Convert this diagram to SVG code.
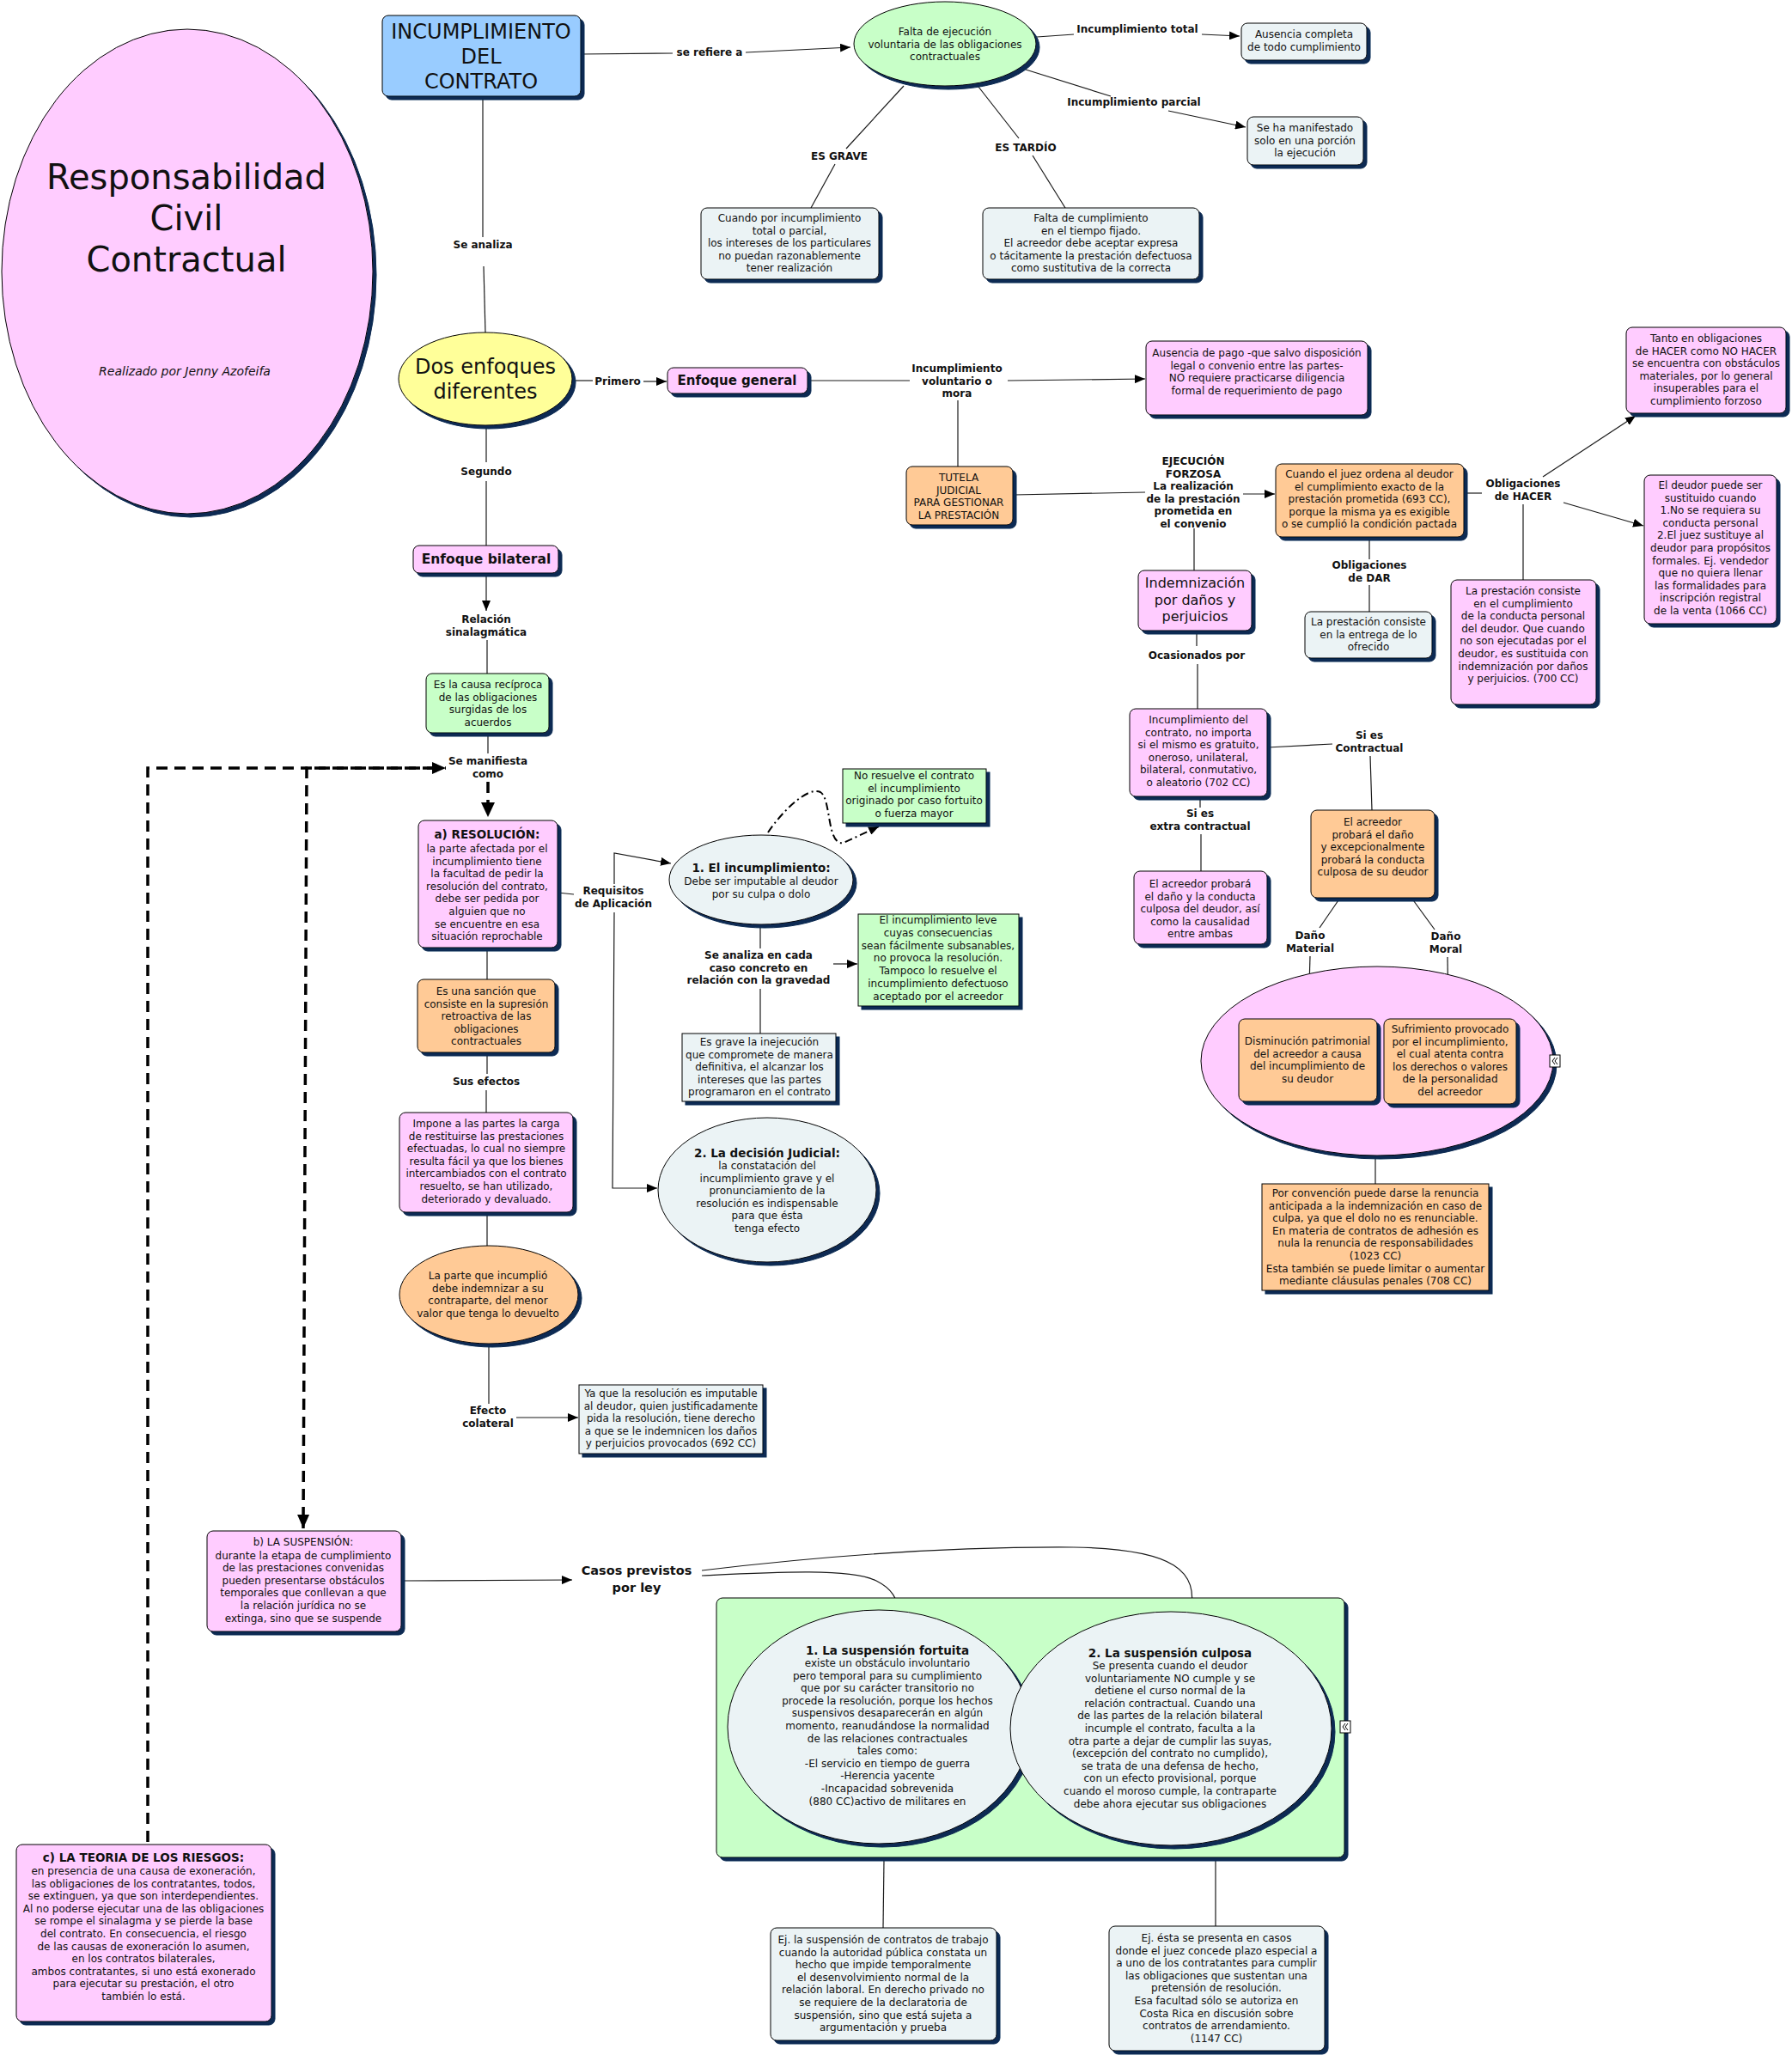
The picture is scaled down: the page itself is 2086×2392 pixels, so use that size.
<svg xmlns="http://www.w3.org/2000/svg" width="2086" height="2392" viewBox="0 0 2086 2392">
<defs>
<style>
.t{font-family:"DejaVu Sans",sans-serif;font-size:12px;text-anchor:middle;fill:#111}
.b{font-weight:bold}
.pk{fill:#ffccff;stroke:#000;stroke-width:1}
.gr{fill:#c8ffc8;stroke:#000;stroke-width:1}
.lt{fill:#ebf3f5;stroke:#000;stroke-width:1}
.or{fill:#ffca96;stroke:#000;stroke-width:1}
.sd{filter:url(#sh)}
.c{fill:none;stroke:#1a1a1a;stroke-width:1.2}
.ca{fill:none;stroke:#1a1a1a;stroke-width:1.2;marker-end:url(#ar)}
.dd{fill:none;stroke:#000;stroke-width:3.5;stroke-dasharray:13 8}
.ic{fill:#fff;stroke:#000;stroke-width:1}
</style>
<filter id="sh" x="-10%" y="-10%" width="125%" height="125%">
<feFlood flood-color="#0b2b52"/>
<feComposite operator="in" in2="SourceAlpha"/>
<feOffset dx="4" dy="4" result="s"/>
<feMerge><feMergeNode in="s"/><feMergeNode in="SourceGraphic"/></feMerge>
</filter>
<marker id="ar" markerUnits="userSpaceOnUse" markerWidth="12" markerHeight="10" refX="12" refY="5" orient="auto"><path d="M0,0L12,5L0,10z" fill="#000"/></marker>
<marker id="ab" markerUnits="userSpaceOnUse" markerWidth="16" markerHeight="16" refX="16" refY="8" orient="auto"><path d="M0,1L16,8L0,15z" fill="#000"/></marker>
</defs>
<rect width="2086" height="2392" fill="#fff"/>

<g id="connectors">
<path class="c" d="M676,63L783,62"/>
<path class="ca" d="M868,61L990,55"/>
<path class="c" d="M1207,43L1250,40"/>
<path class="ca" d="M1399,40L1443,42"/>
<path class="c" d="M1194,81L1293,112"/>
<path class="ca" d="M1360,129L1450,148"/>
<path class="c" d="M1052,100L985,173"/>
<path class="c" d="M972,191L944,242"/>
<path class="c" d="M1139,101L1186,161"/>
<path class="c" d="M1202,181L1240,242"/>
<path class="c" d="M562,112L562,276"/>
<path class="c" d="M563,310L565,387"/>
<path class="c" d="M665,443L690,443"/>
<path class="ca" d="M749,444L776,444"/>
<path class="c" d="M566,494L566,538"/>
<path class="c" d="M566,560L566,635"/>
<path class="c" d="M940,443L1059,443"/>
<path class="ca" d="M1173,443L1333,441"/>
<path class="c" d="M1115,466L1115,543"/>
<path class="c" d="M1180,576L1333,573"/>
<path class="ca" d="M1447,575L1484,575"/>
<path class="c" d="M1704,574L1725,574"/>
<path class="ca" d="M1796,555L1904,484"/>
<path class="ca" d="M1820,585L1913,612"/>
<path class="c" d="M1773,587L1773,675"/>
<path class="c" d="M1594,625L1594,651"/>
<path class="c" d="M1594,681L1594,712"/>
<path class="c" d="M1390,615L1390,664"/>
<path class="c" d="M1393,734L1393,752"/>
<path class="c" d="M1394,773L1394,825"/>
<path class="c" d="M1475,870L1551,866"/>
<path class="c" d="M1595,880L1597,943"/>
<path class="c" d="M1397,927L1397,940"/>
<path class="c" d="M1398,971L1398,1014"/>
<path class="c" d="M1560,1045L1536,1080"/>
<path class="c" d="M1525,1113L1523,1186"/>
<path class="c" d="M1643,1045L1670,1082"/>
<path class="c" d="M1685,1114L1686,1186"/>
<path class="c" d="M1601,1345L1601,1378"/>
<path class="ca" d="M566,667L566,711"/>
<path class="c" d="M567,745L567,784"/>
<path class="c" d="M568,853L568,877"/>
<path class="dd" d="M568,910L568,935"/>
<path d="M560,934L576,934L568,951z" fill="#000"/>
<path class="dd" style="marker-end:url(#ab)" d="M172,2144L172,894L519,894"/>
<path class="dd" style="marker-end:url(#ab)" d="M505,894L357,894L353,1779"/>
<path class="c" d="M649,1039L668,1041"/>
<path class="ca" d="M715,1029L715,993L781,1005"/>
<path class="ca" d="M715,1062L713,1383L765,1383"/>
<path fill="none" stroke="#000" stroke-width="2" stroke-dasharray="9 4 2 4" style="marker-end:url(#ar)" d="M894,969C910,945 940,915 955,922C968,930 962,985 982,981L1023,962"/>
<path class="c" d="M885,1076L885,1104"/>
<path class="c" d="M885,1151L885,1203"/>
<path class="ca" d="M970,1122L998,1122"/>
<path class="c" d="M567,1103L567,1140"/>
<path class="c" d="M567,1225L567,1250"/>
<path class="c" d="M566,1269L566,1295"/>
<path class="c" d="M567,1411L567,1450"/>
<path class="c" d="M569,1564L569,1634"/>
<path class="ca" d="M601,1650L673,1650"/>
<path class="ca" d="M469,1840L666,1839"/>
<path class="c" d="M817,1834C900,1830 990,1825 1020,1840C1040,1850 1044,1862 1045,1873"/>
<path class="c" d="M817,1828C950,1812 1100,1800 1250,1801C1370,1803 1395,1830 1386,1876"/>
<path class="c" d="M1029,2165L1028,2244"/>
<path class="c" d="M1415,2165L1415,2242"/>
</g>

<g id="labels" class="t b">
<text x="826" y="65">se refiere a</text>
<text x="1324" y="38">Incumplimiento total</text>
<text x="1320" y="123">Incumplimiento parcial</text>
<text x="977" y="186">ES GRAVE</text>
<text x="1194" y="176">ES TARDÍO</text>
<text x="562" y="289">Se analiza</text>
<text x="719" y="448">Primero</text>
<text x="566" y="553">Segundo</text>
<text x="1114" y="433"><tspan x="1114">Incumplimiento</tspan><tspan x="1114" dy="14.6">voluntario o</tspan><tspan x="1114" dy="14.6">mora</tspan></text>
<text x="1389" y="541"><tspan x="1389">EJECUCIÓN</tspan><tspan x="1389" dy="14.6">FORZOSA</tspan><tspan x="1389" dy="14.6">La realización</tspan><tspan x="1389" dy="14.6">de la prestación</tspan><tspan x="1389" dy="14.6">prometida en</tspan><tspan x="1389" dy="14.6">el convenio</tspan></text>
<text x="1773" y="567"><tspan x="1773">Obligaciones</tspan><tspan x="1773" dy="14.6">de HACER</tspan></text>
<text x="1594" y="662"><tspan x="1594">Obligaciones</tspan><tspan x="1594" dy="14.6">de DAR</tspan></text>
<text x="1393" y="767">Ocasionados por</text>
<text x="1594" y="860"><tspan x="1594">Si es</tspan><tspan x="1594" dy="14.6">Contractual</tspan></text>
<text x="1397" y="951"><tspan x="1397">Si es</tspan><tspan x="1397" dy="14.6">extra contractual</tspan></text>
<text x="1525" y="1093"><tspan x="1525">Daño</tspan><tspan x="1525" dy="14.6">Material</tspan></text>
<text x="1683" y="1094"><tspan x="1683">Daño</tspan><tspan x="1683" dy="14.6">Moral</tspan></text>
<text x="566" y="725"><tspan x="566">Relación</tspan><tspan x="566" dy="14.6">sinalagmática</tspan></text>
<text x="568" y="890"><tspan x="568">Se manifiesta</tspan><tspan x="568" dy="14.6">como</tspan></text>
<text x="714" y="1041"><tspan x="714">Requisitos</tspan><tspan x="714" dy="14.6">de Aplicación</tspan></text>
<text x="883" y="1116"><tspan x="883">Se analiza en cada</tspan><tspan x="883" dy="14.6">caso concreto en</tspan><tspan x="883" dy="14.6">relación con la gravedad</tspan></text>
<text x="566" y="1263">Sus efectos</text>
<text x="568" y="1646"><tspan x="568">Efecto</tspan><tspan x="568" dy="14.6">colateral</tspan></text>
<text x="741" y="1833" style="font-size:14.5px"><tspan x="741">Casos previstos</tspan><tspan x="741" dy="20">por ley</tspan></text>
</g>

<g id="n-titulo">
<ellipse class="pk sd" cx="218" cy="316" rx="216" ry="282"/>
<text class="t" style="font-size:40px" x="217" y="220"><tspan x="217">Responsabilidad</tspan><tspan x="217" dy="48">Civil</tspan><tspan x="217" dy="48">Contractual</tspan></text>
<text class="t" style="font-size:14px;font-style:italic" x="215" y="437">Realizado por Jenny Azofeifa</text>
</g>

<g id="n-incumplimiento">
<rect class="sd" x="445" y="18" width="231" height="94" rx="7" fill="#99ccff" stroke="#000"/>
<text class="t" style="font-size:24px" x="560" y="45"><tspan x="560">INCUMPLIMIENTO</tspan><tspan x="560" dy="29">DEL</tspan><tspan x="560" dy="29">CONTRATO</tspan></text>
</g>

<g id="n-falta-ejecucion">
<ellipse class="gr sd" cx="1100" cy="51" rx="106" ry="49"/>
<text class="t" x="1100" y="41"><tspan x="1100">Falta de ejecución</tspan><tspan x="1100" dy="14.6">voluntaria de las obligaciones</tspan><tspan x="1100" dy="14.6">contractuales</tspan></text>
</g>

<g id="n-ausencia-completa">
<rect class="lt sd" x="1445" y="27" width="146" height="43" rx="7"/>
<text class="t" x="1518" y="44"><tspan x="1518">Ausencia completa</tspan><tspan x="1518" dy="14.6">de todo cumplimiento</tspan></text>
</g>

<g id="n-se-ha-manifestado">
<rect class="lt sd" x="1452" y="136" width="135" height="56" rx="7"/>
<text class="t" x="1519" y="153"><tspan x="1519">Se ha manifestado</tspan><tspan x="1519" dy="14.6">solo en una porción</tspan><tspan x="1519" dy="14.6">la ejecución</tspan></text>
</g>

<g id="n-cuando-por-incumplimiento">
<rect class="lt sd" x="816" y="242" width="207" height="83" rx="7"/>
<text class="t" x="919" y="258"><tspan x="919">Cuando por incumplimiento</tspan><tspan x="919" dy="14.6">total o parcial,</tspan><tspan x="919" dy="14.6">los intereses de los particulares</tspan><tspan x="919" dy="14.6">no puedan razonablemente</tspan><tspan x="919" dy="14.6">tener realización</tspan></text>
</g>

<g id="n-falta-cumplimiento">
<rect class="lt sd" x="1144" y="242" width="252" height="83" rx="7"/>
<text class="t" x="1270" y="258"><tspan x="1270">Falta de cumplimiento</tspan><tspan x="1270" dy="14.6">en el tiempo fijado.</tspan><tspan x="1270" dy="14.6">El acreedor debe aceptar expresa</tspan><tspan x="1270" dy="14.6">o tácitamente la prestación defectuosa</tspan><tspan x="1270" dy="14.6">como sustitutiva de la correcta</tspan></text>
</g>

<g id="n-dos-enfoques">
<ellipse class="sd" cx="565" cy="441" rx="101" ry="54" fill="#ffff99" stroke="#000"/>
<text class="t" style="font-size:24px" x="565" y="435"><tspan x="565">Dos enfoques</tspan><tspan x="565" dy="29">diferentes</tspan></text>
</g>

<g id="n-enfoque-general">
<rect class="pk sd" x="777" y="428" width="163" height="30" rx="7"/>
<text class="t b" style="font-size:15px" x="858" y="448">Enfoque general</text>
</g>

<g id="n-ausencia-pago">
<rect class="pk sd" x="1334" y="397" width="258" height="86" rx="7"/>
<text class="t" x="1463" y="415"><tspan x="1463">Ausencia de pago -que salvo disposición</tspan><tspan x="1463" dy="14.6">legal o convenio entre las partes-</tspan><tspan x="1463" dy="14.6">NO requiere practicarse diligencia</tspan><tspan x="1463" dy="14.6">formal de  requerimiento de pago</tspan></text>
</g>

<g id="n-tutela">
<rect class="or sd" x="1055" y="543" width="124" height="68" rx="7"/>
<text class="t" x="1116" y="560"><tspan x="1116">TUTELA</tspan><tspan x="1116" dy="14.6">JUDICIAL</tspan><tspan x="1116" dy="14.6">PARA GESTIONAR</tspan><tspan x="1116" dy="14.6">LA PRESTACIÓN</tspan></text>
</g>

<g id="n-cuando-juez">
<rect class="or sd" x="1485" y="540" width="219" height="85" rx="7"/>
<text class="t" x="1594" y="556"><tspan x="1594">Cuando el juez ordena al deudor</tspan><tspan x="1594" dy="14.6">el cumplimiento exacto de la</tspan><tspan x="1594" dy="14.6">prestación prometida (693 CC),</tspan><tspan x="1594" dy="14.6">porque la misma ya es exigible</tspan><tspan x="1594" dy="14.6">o se cumplió la condición pactada</tspan></text>
</g>

<g id="n-tanto">
<rect class="pk sd" x="1893" y="381" width="186" height="100" rx="7"/>
<text class="t" x="1986" y="398"><tspan x="1986">Tanto en obligaciones</tspan><tspan x="1986" dy="14.6">de HACER como NO HACER</tspan><tspan x="1986" dy="14.6">se encuentra con obstáculos</tspan><tspan x="1986" dy="14.6">materiales, por lo general</tspan><tspan x="1986" dy="14.6">insuperables para el</tspan><tspan x="1986" dy="14.6">cumplimiento forzoso</tspan></text>
</g>

<g id="n-deudor-sustituido">
<rect class="pk sd" x="1914" y="553" width="154" height="173" rx="7"/>
<text class="t" x="1991" y="569"><tspan x="1991">El deudor puede ser</tspan><tspan x="1991" dy="14.6">sustituido cuando</tspan><tspan x="1991" dy="14.6">1.No se requiera su</tspan><tspan x="1991" dy="14.6">conducta personal</tspan><tspan x="1991" dy="14.6">2.El juez sustituye al</tspan><tspan x="1991" dy="14.6">deudor para propósitos</tspan><tspan x="1991" dy="14.6">formales. Ej. vendedor</tspan><tspan x="1991" dy="14.6">que no quiera llenar</tspan><tspan x="1991" dy="14.6">las formalidades para</tspan><tspan x="1991" dy="14.6">inscripción registral</tspan><tspan x="1991" dy="14.6">de la venta (1066 CC)</tspan></text>
</g>

<g id="n-dar">
<rect class="lt sd" x="1519" y="712" width="148" height="54" rx="7"/>
<text class="t" x="1593" y="728"><tspan x="1593">La prestación consiste</tspan><tspan x="1593" dy="14.6">en la entrega de lo</tspan><tspan x="1593" dy="14.6">ofrecido</tspan></text>
</g>

<g id="n-prestacion-hacer">
<rect class="pk sd" x="1689" y="675" width="169" height="145" rx="7"/>
<text class="t" x="1773" y="692"><tspan x="1773">La prestación consiste</tspan><tspan x="1773" dy="14.6">en el cumplimiento</tspan><tspan x="1773" dy="14.6">de la conducta personal</tspan><tspan x="1773" dy="14.6">del deudor. Que cuando</tspan><tspan x="1773" dy="14.6">no son ejecutadas por el</tspan><tspan x="1773" dy="14.6">deudor, es sustituida con</tspan><tspan x="1773" dy="14.6">indemnización por daños</tspan><tspan x="1773" dy="14.6">y perjuicios. (700 CC)</tspan></text>
</g>

<g id="n-indemnizacion">
<rect class="pk sd" x="1325" y="664" width="132" height="70" rx="7"/>
<text class="t" style="font-size:16px" x="1391" y="684"><tspan x="1391">Indemnización</tspan><tspan x="1391" dy="19.5">por daños y</tspan><tspan x="1391" dy="19.5">perjuicios</tspan></text>
</g>

<g id="n-incumplimiento-contrato">
<rect class="pk sd" x="1315" y="825" width="160" height="102" rx="7"/>
<text class="t" x="1395" y="842"><tspan x="1395">Incumplimiento del</tspan><tspan x="1395" dy="14.6">contrato, no importa</tspan><tspan x="1395" dy="14.6">si el mismo es gratuito,</tspan><tspan x="1395" dy="14.6">oneroso, unilateral,</tspan><tspan x="1395" dy="14.6">bilateral, conmutativo,</tspan><tspan x="1395" dy="14.6">o aleatorio (702 CC)</tspan></text>
</g>

<g id="n-acreedor-contractual">
<rect class="or sd" x="1526" y="943" width="144" height="102" rx="7"/>
<text class="t" x="1598" y="961"><tspan x="1598">El acreedor</tspan><tspan x="1598" dy="14.6">probará el daño</tspan><tspan x="1598" dy="14.6">y excepcionalmente</tspan><tspan x="1598" dy="14.6">probará la conducta</tspan><tspan x="1598" dy="14.6">culposa de su deudor</tspan></text>
</g>

<g id="n-acreedor-extra">
<rect class="pk sd" x="1320" y="1014" width="155" height="85" rx="7"/>
<text class="t" x="1397" y="1033"><tspan x="1397">El acreedor probará</tspan><tspan x="1397" dy="14.6">el daño y la conducta</tspan><tspan x="1397" dy="14.6">culposa del deudor, así</tspan><tspan x="1397" dy="14.6">como la causalidad</tspan><tspan x="1397" dy="14.6">entre ambas</tspan></text>
</g>

<g id="n-danos">
<ellipse class="pk sd" cx="1603" cy="1235" rx="205" ry="110"/>
<rect class="ic" x="1804" y="1228" width="12" height="14"/>
<path d="M1810,1231L1807,1235L1810,1239M1813,1231L1810,1235L1813,1239" fill="none" stroke="#000" stroke-width="1"/>
</g>

<g id="n-disminucion">
<rect class="or sd" x="1442" y="1186" width="161" height="96" rx="7"/>
<text class="t" x="1522" y="1216"><tspan x="1522">Disminución patrimonial</tspan><tspan x="1522" dy="14.6">del acreedor a causa</tspan><tspan x="1522" dy="14.6">del incumplimiento de</tspan><tspan x="1522" dy="14.6">su deudor</tspan></text>
</g>

<g id="n-sufrimiento">
<rect class="or sd" x="1611" y="1186" width="154" height="99" rx="7"/>
<text class="t" x="1688" y="1202"><tspan x="1688">Sufrimiento provocado</tspan><tspan x="1688" dy="14.6">por el incumplimiento,</tspan><tspan x="1688" dy="14.6">el cual atenta contra</tspan><tspan x="1688" dy="14.6">los derechos o valores</tspan><tspan x="1688" dy="14.6">de la personalidad</tspan><tspan x="1688" dy="14.6">del acreedor</tspan></text>
</g>

<g id="n-convencion">
<rect class="or sd" x="1469" y="1378" width="264" height="124"/>
<text class="t" x="1601" y="1393"><tspan x="1601">Por convención puede darse la renuncia</tspan><tspan x="1601" dy="14.6">anticipada a la indemnización en caso de</tspan><tspan x="1601" dy="14.6">culpa, ya que el dolo no es renunciable.</tspan><tspan x="1601" dy="14.6">En materia de contratos de adhesión es</tspan><tspan x="1601" dy="14.6">nula la renuncia de responsabilidades</tspan><tspan x="1601" dy="14.6">(1023 CC)</tspan><tspan x="1601" dy="14.6">Esta también se puede limitar o aumentar</tspan><tspan x="1601" dy="14.6">mediante cláusulas penales (708 CC)</tspan></text>
</g>

<g id="n-enfoque-bilateral">
<rect class="pk sd" x="481" y="635" width="169" height="32" rx="7"/>
<text class="t b" style="font-size:15.5px" x="566" y="656">Enfoque bilateral</text>
</g>

<g id="n-causa-reciproca">
<rect class="gr sd" x="496" y="784" width="143" height="69" rx="7"/>
<text class="t" x="568" y="801"><tspan x="568">Es la causa recíproca</tspan><tspan x="568" dy="14.6">de las obligaciones</tspan><tspan x="568" dy="14.6">surgidas de los</tspan><tspan x="568" dy="14.6">acuerdos</tspan></text>
</g>

<g id="n-resolucion">
<rect class="pk sd" x="487" y="955" width="162" height="148" rx="7"/>
<text class="t b" style="font-size:13.5px" x="567" y="976">a) RESOLUCIÓN:</text>
<text class="t" x="567" y="992"><tspan x="567">la parte afectada por el</tspan><tspan x="567" dy="14.6">incumplimiento tiene</tspan><tspan x="567" dy="14.6">la facultad de pedir la</tspan><tspan x="567" dy="14.6">resolución del contrato,</tspan><tspan x="567" dy="14.6">debe ser pedida por</tspan><tspan x="567" dy="14.6">alguien que no</tspan><tspan x="567" dy="14.6">se encuentre en esa</tspan><tspan x="567" dy="14.6">situación reprochable</tspan></text>
</g>

<g id="n-sancion">
<rect class="or sd" x="486" y="1140" width="160" height="85" rx="7"/>
<text class="t" x="566" y="1158"><tspan x="566">Es una sanción que</tspan><tspan x="566" dy="14.6">consiste en la supresión</tspan><tspan x="566" dy="14.6">retroactiva de las</tspan><tspan x="566" dy="14.6">obligaciones</tspan><tspan x="566" dy="14.6">contractuales</tspan></text>
</g>

<g id="n-impone">
<rect class="pk sd" x="465" y="1295" width="202" height="116" rx="7"/>
<text class="t" x="566" y="1312"><tspan x="566">Impone a las partes la carga</tspan><tspan x="566" dy="14.6">de restituirse las prestaciones</tspan><tspan x="566" dy="14.6">efectuadas, lo cual no siempre</tspan><tspan x="566" dy="14.6">resulta fácil ya que los bienes</tspan><tspan x="566" dy="14.6">intercambiados con el contrato</tspan><tspan x="566" dy="14.6">resuelto, se han utilizado,</tspan><tspan x="566" dy="14.6">deteriorado y devaluado.</tspan></text>
</g>

<g id="n-parte-incumplio">
<ellipse class="or sd" cx="569" cy="1507" rx="104" ry="57"/>
<text class="t" x="568" y="1489"><tspan x="568">La parte que incumplió</tspan><tspan x="568" dy="14.6">debe indemnizar a su</tspan><tspan x="568" dy="14.6">contraparte, del menor</tspan><tspan x="568" dy="14.6">valor que tenga lo devuelto</tspan></text>
</g>

<g id="n-ya-que">
<rect class="lt sd" x="674" y="1612" width="214" height="80"/>
<text class="t" x="781" y="1626"><tspan x="781">Ya que la resolución es imputable</tspan><tspan x="781" dy="14.6">al deudor, quien justificadamente</tspan><tspan x="781" dy="14.6">pida la resolución, tiene derecho</tspan><tspan x="781" dy="14.6">a que se le indemnicen los daños</tspan><tspan x="781" dy="14.6">y perjuicios provocados (692 CC)</tspan></text>
</g>

<g id="n-el-incumplimiento">
<ellipse class="lt sd" cx="886" cy="1024" rx="107" ry="52"/>
<text class="t b" style="font-size:13.5px" x="886" y="1015">1. El incumplimiento:</text>
<text class="t" x="886" y="1030"><tspan x="886">Debe ser imputable al deudor</tspan><tspan x="886" dy="14.6">por su culpa o dolo</tspan></text>
</g>

<g id="n-no-resuelve">
<rect class="gr sd" x="981" y="895" width="167" height="63"/>
<text class="t" x="1064" y="907"><tspan x="1064">No resuelve el contrato</tspan><tspan x="1064" dy="14.6">el incumplimiento</tspan><tspan x="1064" dy="14.6">originado por caso fortuito</tspan><tspan x="1064" dy="14.6">o fuerza mayor</tspan></text>
</g>

<g id="n-leve">
<rect class="gr sd" x="999" y="1064" width="187" height="107"/>
<text class="t" x="1092" y="1075"><tspan x="1092">El incumplimiento leve</tspan><tspan x="1092" dy="14.8">cuyas consecuencias</tspan><tspan x="1092" dy="14.8">sean fácilmente subsanables,</tspan><tspan x="1092" dy="14.8">no provoca la resolución.</tspan><tspan x="1092" dy="14.8">Tampoco lo resuelve el</tspan><tspan x="1092" dy="14.8">incumplimiento defectuoso</tspan><tspan x="1092" dy="14.8">aceptado por el acreedor</tspan></text>
</g>

<g id="n-es-grave">
<rect class="lt sd" x="794" y="1203" width="179" height="79"/>
<text class="t" x="884" y="1217"><tspan x="884">Es grave la inejecución</tspan><tspan x="884" dy="14.6">que compromete de manera</tspan><tspan x="884" dy="14.6">definitiva, el alcanzar los</tspan><tspan x="884" dy="14.6">intereses que las partes</tspan><tspan x="884" dy="14.6">programaron en el contrato</tspan></text>
</g>

<g id="n-decision">
<ellipse class="lt sd" cx="893" cy="1385" rx="127" ry="84"/>
<text class="t b" style="font-size:13.5px" x="893" y="1347">2. La decisión Judicial:</text>
<text class="t" x="893" y="1361"><tspan x="893">la constatación del</tspan><tspan x="893" dy="14.6">incumplimiento grave y el</tspan><tspan x="893" dy="14.6">pronunciamiento de la</tspan><tspan x="893" dy="14.6">resolución es indispensable</tspan><tspan x="893" dy="14.6">para que ésta</tspan><tspan x="893" dy="14.6">tenga efecto</tspan></text>
</g>

<g id="n-suspension">
<rect class="pk sd" x="241" y="1782" width="226" height="117" rx="7"/>
<text class="t" x="353" y="1799"><tspan x="353">b) LA SUSPENSIÓN:</tspan><tspan x="353" dy="15.5">durante la etapa de cumplimiento</tspan><tspan x="353" dy="14.6">de las prestaciones convenidas</tspan><tspan x="353" dy="14.6">pueden presentarse obstáculos</tspan><tspan x="353" dy="14.6">temporales que conllevan a que</tspan><tspan x="353" dy="14.6">la relación jurídica no se</tspan><tspan x="353" dy="14.6">extinga, sino que se suspende</tspan></text>
</g>

<g id="n-riesgos">
<rect class="pk sd" x="19" y="2147" width="297" height="206" rx="7"/>
<text class="t b" style="font-size:13.5px" x="167" y="2167">c) LA TEORIA DE LOS RIESGOS:</text>
<text class="t" x="167" y="2182"><tspan x="167">en presencia de una causa de exoneración,</tspan><tspan x="167" dy="14.6">las obligaciones de los contratantes, todos,</tspan><tspan x="167" dy="14.6">se extinguen, ya que son interdependientes.</tspan><tspan x="167" dy="14.6">Al no poderse ejecutar una de las obligaciones</tspan><tspan x="167" dy="14.6">se rompe el sinalagma y se pierde la base</tspan><tspan x="167" dy="14.6">del contrato. En consecuencia, el riesgo</tspan><tspan x="167" dy="14.6">de las causas de exoneración lo asumen,</tspan><tspan x="167" dy="14.6">en los contratos bilaterales,</tspan><tspan x="167" dy="14.6">ambos contratantes, si uno está exonerado</tspan><tspan x="167" dy="14.6">para ejecutar su prestación, el otro</tspan><tspan x="167" dy="14.6">también lo está.</tspan></text>
</g>

<g id="n-casos">
<rect class="gr sd" x="834" y="1860" width="731" height="302" rx="7"/>
<rect class="ic" x="1560" y="2003" width="12" height="14"/>
<path d="M1566,2006L1563,2010L1566,2014M1569,2006L1566,2010L1569,2014" fill="none" stroke="#000" stroke-width="1"/>
</g>

<g id="n-fortuita">
<ellipse class="lt sd" cx="1023" cy="2010" rx="176" ry="136"/>
<text class="t b" style="font-size:13.5px" x="1033" y="1926">1. La suspensión fortuita</text>
<text class="t" x="1033" y="1940"><tspan x="1033">existe un obstáculo involuntario</tspan><tspan x="1033" dy="14.6">pero temporal para su cumplimiento</tspan><tspan x="1033" dy="14.6">que por su carácter transitorio no</tspan><tspan x="1033" dy="14.6">procede la resolución, porque los hechos</tspan><tspan x="1033" dy="14.6">suspensivos desaparecerán en algún</tspan><tspan x="1033" dy="14.6">momento, reanudándose la normalidad</tspan><tspan x="1033" dy="14.6">de las relaciones contractuales</tspan><tspan x="1033" dy="14.6">tales como:</tspan><tspan x="1033" dy="14.6">-El servicio en tiempo de guerra</tspan><tspan x="1033" dy="14.6">-Herencia yacente</tspan><tspan x="1033" dy="14.6">-Incapacidad sobrevenida</tspan><tspan x="1033" dy="14.6">(880 CC)activo de militares en</tspan></text>
</g>

<g id="n-culposa">
<ellipse class="lt sd" cx="1363" cy="2012" rx="187" ry="136"/>
<text class="t b" style="font-size:13.5px" x="1362" y="1929">2. La suspensión culposa</text>
<text class="t" x="1362" y="1943"><tspan x="1362">Se presenta cuando el deudor</tspan><tspan x="1362" dy="14.6">voluntariamente NO cumple y se</tspan><tspan x="1362" dy="14.6">detiene el curso normal de la</tspan><tspan x="1362" dy="14.6">relación contractual. Cuando una</tspan><tspan x="1362" dy="14.6">de las partes de la relación bilateral</tspan><tspan x="1362" dy="14.6">incumple el contrato, faculta a la</tspan><tspan x="1362" dy="14.6">otra parte a dejar de cumplir las suyas,</tspan><tspan x="1362" dy="14.6">(excepción del contrato no cumplido),</tspan><tspan x="1362" dy="14.6">se trata de una defensa de hecho,</tspan><tspan x="1362" dy="14.6">con un efecto provisional, porque</tspan><tspan x="1362" dy="14.6">cuando el moroso cumple, la contraparte</tspan><tspan x="1362" dy="14.6">debe ahora ejecutar sus obligaciones</tspan></text>
</g>

<g id="n-ej-trabajo">
<rect class="lt sd" x="897" y="2244" width="263" height="131" rx="7"/>
<text class="t" x="1028" y="2262"><tspan x="1028">Ej. la suspensión de contratos de trabajo</tspan><tspan x="1028" dy="14.6">cuando la autoridad pública constata un</tspan><tspan x="1028" dy="14.6">hecho que impide temporalmente</tspan><tspan x="1028" dy="14.6">el desenvolvimiento normal de la</tspan><tspan x="1028" dy="14.6">relación laboral. En derecho privado no</tspan><tspan x="1028" dy="14.6">se requiere de la declaratoria de</tspan><tspan x="1028" dy="14.6">suspensión, sino que está sujeta a</tspan><tspan x="1028" dy="14.6">argumentación y prueba</tspan></text>
</g>

<g id="n-ej-plazo">
<rect class="lt sd" x="1291" y="2242" width="251" height="145" rx="7"/>
<text class="t" x="1416" y="2260"><tspan x="1416">Ej. ésta se presenta en casos</tspan><tspan x="1416" dy="14.6">donde el juez concede plazo especial a</tspan><tspan x="1416" dy="14.6">a uno de los contratantes para cumplir</tspan><tspan x="1416" dy="14.6">las obligaciones que sustentan una</tspan><tspan x="1416" dy="14.6">pretensión de resolución.</tspan><tspan x="1416" dy="14.6">Esa facultad sólo se autoriza en</tspan><tspan x="1416" dy="14.6">Costa Rica en discusión sobre</tspan><tspan x="1416" dy="14.6">contratos de arrendamiento.</tspan><tspan x="1416" dy="14.6">(1147 CC)</tspan></text>
</g>
</svg>
